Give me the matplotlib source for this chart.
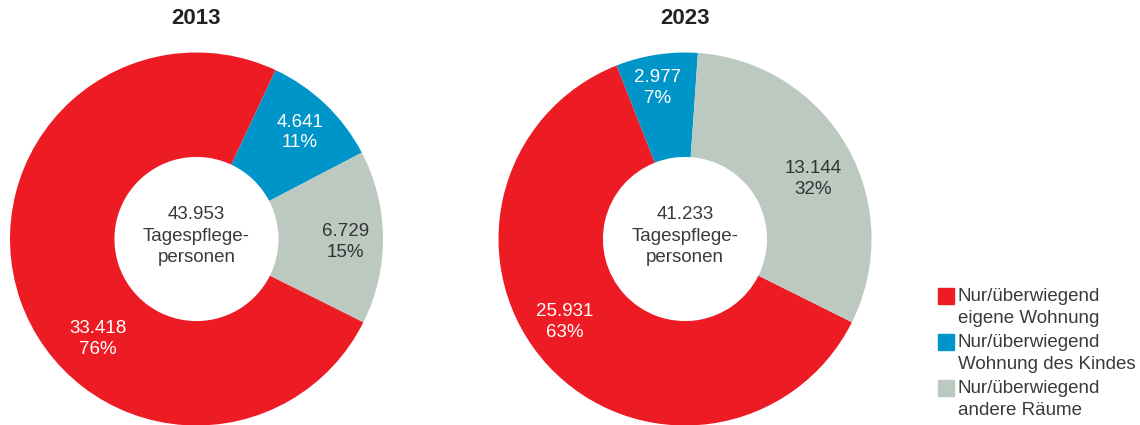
import matplotlib.pyplot as plt
from matplotlib.patches import Rectangle

plt.rcParams['font.family'] = ['Liberation Sans', 'DejaVu Sans']

# data
years = ["2013", "2023"]
categories = ["Nur/überwiegend\neigene Wohnung",
              "Nur/überwiegend\nWohnung des Kindes",
              "Nur/überwiegend\nandere Räume"]
values_2013 = [33418, 4641, 6729]
values_2023 = [25931, 2977, 13144]
value_labels_2013 = ["33.418", "4.641", "6.729"]
value_labels_2023 = ["25.931", "2.977", "13.144"]
pct_labels_2013 = ["76%", "11%", "15%"]
pct_labels_2023 = ["63%", "7%", "32%"]
totals = ["43.953", "41.233"]

# colours / layout
COLOURS = ["#ED1C24", "#0095C8", "#BBC9C1"]
LABEL_COLOURS = ["white", "white", "#333333"]
TEXT_COL = "#3a3a3a"
W, H = 1140, 425
CENTRES = [(196.5, 239), (685, 239)]
RADIUS = 186.5
HOLE = 0.44
FS = 13.5
# label positions in pie units (x, y) relative to centre
LABEL_POS = [
    [(-0.53, -0.536), (0.555, 0.571), (0.80, -0.015)],
    [(-0.643, -0.445), (-0.145, 0.81), (0.686, 0.32)],
]

fig = plt.figure(figsize=(W / 100, H / 100), dpi=100)

all_values = [values_2013, values_2023]
all_vlabels = [value_labels_2013, value_labels_2023]
all_plabels = [pct_labels_2013, pct_labels_2023]

for i, (cx, cy) in enumerate(CENTRES):
    ax = fig.add_axes([(cx - RADIUS) / W, (H - cy - RADIUS) / H,
                       2 * RADIUS / W, 2 * RADIUS / H])
    ax.pie(all_values[i], colors=COLOURS, startangle=333.5, counterclock=False,
           wedgeprops=dict(width=1 - HOLE, edgecolor="none"))
    ax.set_xlim(-1, 1)
    ax.set_ylim(-1, 1)
    ax.set_aspect("equal")
    ax.axis("off")
    for j in range(3):
        x, y = LABEL_POS[i][j]
        ax.text(x, y, f"{all_vlabels[i][j]}\n{all_plabels[i][j]}", ha="center", va="center",
                fontsize=FS, color=LABEL_COLOURS[j], linespacing=1.3)
    ax.text(0, 0.016, f"{totals[i]}\nTagespflege-\npersonen", ha="center", va="center",
            fontsize=FS, color=TEXT_COL, linespacing=1.35)
    fig.text(cx / W, 1 - 19 / H, years[i], ha="center", va="center",
             fontsize=16, fontweight="bold", color="#222222")

# legend
leg_x, leg_y0, leg_step = 938, 296, 46
for j, lab in enumerate(categories):
    y = leg_y0 + j * leg_step
    fig.patches.append(Rectangle((leg_x / W, 1 - (y + 8) / H), 16 / W, 16 / H,
                                 transform=fig.transFigure, color=COLOURS[j]))
    fig.text((leg_x + 20) / W, 1 - (y - 8) / H, lab, ha="left", va="top",
             fontsize=FS, color=TEXT_COL, linespacing=1.35)

fig.savefig("out.png", dpi=100)
